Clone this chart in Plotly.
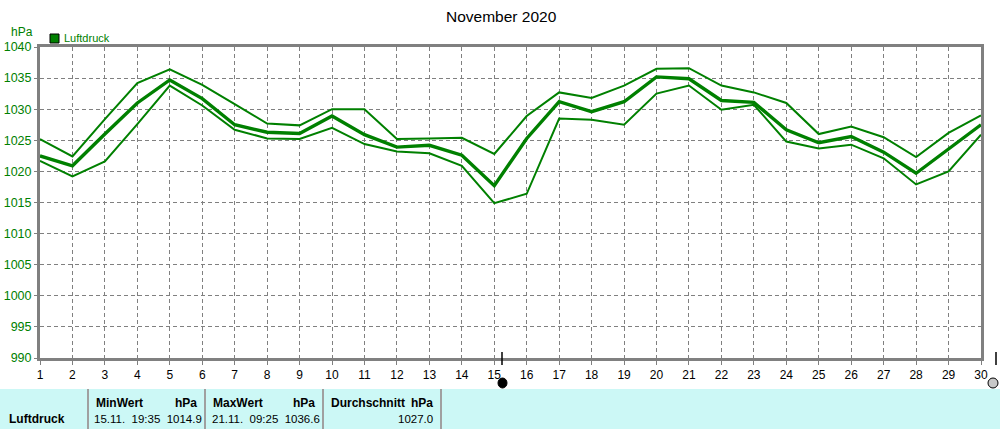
import plotly.graph_objects as go

days = list(range(1, 31))
p_max = [1025.2, 1022.4, 1028.4, 1034.2, 1036.4, 1033.9, 1030.8, 1027.7, 1027.4, 1030.0,
         1030.0, 1025.2, 1025.3, 1025.4, 1022.8, 1028.9, 1032.7, 1031.8, 1033.8, 1036.5,
         1036.6, 1033.8, 1032.7, 1031.0, 1026.0, 1027.2, 1025.5, 1022.3, 1026.2, 1029.0]
p_mean = [1022.5, 1020.9, 1026.0, 1031.0, 1034.7, 1031.7, 1027.5, 1026.3, 1026.1, 1028.9,
          1025.9, 1023.9, 1024.2, 1022.6, 1017.7, 1025.3, 1031.2, 1029.6, 1031.2, 1035.2,
          1034.9, 1031.4, 1031.1, 1026.7, 1024.6, 1025.6, 1023.1, 1019.7, 1023.6, 1027.5]
p_min = [1021.7, 1019.2, 1021.6, 1027.6, 1033.8, 1030.6, 1026.7, 1025.3, 1025.2, 1027.0,
         1024.4, 1023.2, 1022.9, 1020.9, 1014.9, 1016.4, 1028.5, 1028.3, 1027.5, 1032.5,
         1033.8, 1029.9, 1030.7, 1024.8, 1023.7, 1024.3, 1022.1, 1017.9, 1020.0, 1025.9]
y_ticks = list(range(990, 1041, 5))
title_text = "November 2020"
series_name = "Luftdruck"
unit = "hPa"
table_min = ("MinWert", "15.11.  19:35  1014.9")
table_max = ("MaxWert", "21.11.  09:25  1036.6")
table_avg = ("Durchschnitt", "1027.0")

GREEN = "#008000"
GRAY = "#808080"
FONT = "Liberation Sans, Arial, sans-serif"

L, R, T, B = 40, 981, 47, 358
W, H = 1000, 429


def px(x):
    return (x - L) / (R - L)


def py(y):
    return (B - y) / (B - T)


fig = go.Figure()
for vals, w in ((p_max, 2), (p_min, 2), (p_mean, 3.4)):
    fig.add_trace(go.Scatter(x=days, y=vals, mode="lines",
                             line=dict(color=GREEN, width=w), showlegend=False,
                             name=series_name, hoverinfo="x+y"))

shapes = []
# table band
shapes.append(dict(type="rect", xref="paper", yref="paper", x0=px(0), x1=px(1000),
                   y0=py(429), y1=py(389), fillcolor="#CCF8F6", line=dict(width=0), layer="below"))
for sx in (88, 205, 323, 441):
    shapes.append(dict(type="line", xref="paper", yref="paper", x0=px(sx), x1=px(sx),
                       y0=py(429), y1=py(389), line=dict(color="#A0A0A0", width=2)))
# legend square
shapes.append(dict(type="rect", xref="paper", yref="paper", x0=px(50), x1=px(59),
                   y0=py(43), y1=py(34), fillcolor=GREEN, line=dict(color="black", width=1)))
# slider markers
shapes.append(dict(type="line", xref="paper", yref="paper", x0=px(502), x1=px(502),
                   y0=py(365), y1=py(352), line=dict(color="black", width=1.5)))
shapes.append(dict(type="circle", xref="paper", yref="paper", x0=px(498), x1=px(507),
                   y0=py(388), y1=py(378), fillcolor="black", line=dict(color="black", width=1)))
shapes.append(dict(type="line", xref="paper", yref="paper", x0=px(996), x1=px(996),
                   y0=py(365), y1=py(352), line=dict(color="black", width=1.5)))
shapes.append(dict(type="circle", xref="paper", yref="paper", x0=px(988), x1=px(998),
                   y0=py(388), y1=py(378), fillcolor="#C8C8C8", line=dict(color="black", width=1)))

ann = []


def text(x, y, s, anchor="left", bold=False, color="black", size=12):
    ann.append(dict(xref="paper", yref="paper", x=px(x), y=py(y), text=f"<b>{s}</b>" if bold else s,
                    showarrow=False, xanchor=anchor, yanchor="middle",
                    font=dict(family=FONT, size=size, color=color)))


text(501, 16, title_text, anchor="center", size=15.5)
text(9, 32, unit, color=GREEN, size=12)
text(62, 38, series_name, color=GREEN, size=11)
text(7, 419, series_name, bold=True)
text(94, 403, table_min[0], bold=True)
text(199, 403, unit, anchor="right", bold=True)
text(92, 419, table_min[1], size=11.5)
text(211, 403, table_max[0], bold=True)
text(317, 403, unit, anchor="right", bold=True)
text(210, 419, table_max[1], size=11.5)
text(329, 403, table_avg[0], bold=True)
text(435, 403, unit, anchor="right", bold=True)
text(435, 419, table_avg[1], anchor="right", size=11.5)

fig.update_layout(
    width=W, height=H,
    margin=dict(l=L, r=W - R, t=T, b=H - B),
    paper_bgcolor="white", plot_bgcolor="white",
    shapes=shapes, annotations=ann,
    xaxis=dict(range=[1, 30], tickvals=days, ticktext=[str(d) for d in days],
               automargin=False,
               showgrid=True, gridcolor=GRAY, griddash="4px,3px", gridwidth=1,
               showline=True, linecolor=GRAY, linewidth=3, mirror=True,
               ticks="outside", ticklen=4, tickcolor=GRAY, zeroline=False,
               tickfont=dict(family=FONT, size=12, color="black")),
    yaxis=dict(range=[990, 1040], tickvals=y_ticks, showgrid=True, gridcolor=GRAY,
               automargin=False,
               griddash="4px,3px", gridwidth=1,
               showline=True, linecolor=GRAY, linewidth=3, mirror=True,
               ticks="outside", ticklen=3, tickcolor=GRAY, zeroline=False,
               tickfont=dict(family=FONT, size=12.5, color=GREEN)),
)

fig.write_html("out.html")
